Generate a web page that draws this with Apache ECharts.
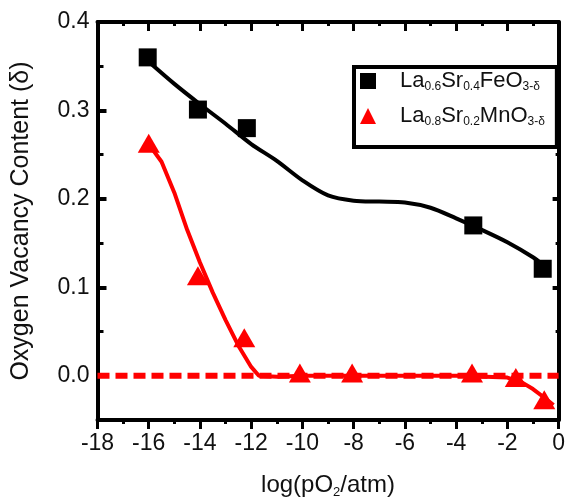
<!DOCTYPE html>
<html>
<head>
<meta charset="utf-8">
<script src="https://cdn.jsdelivr.net/npm/echarts@6/dist/echarts.min.js"></script>
<style>
html,body{margin:0;padding:0;background:#fff;}
#c{width:568px;height:504px;}
</style>
</head>
<body>
<div id="c"></div>
<script>
// ---- data ----
const lsfX = [-16.04, -14.08, -12.17, -3.33, -0.62];
const lsfY = [0.360, 0.301, 0.280, 0.170, 0.121];
const lsmX = [-16.0, -14.08, -12.27, -10.1, -8.06, -3.38, -1.67, -0.56];
const lsmY = [0.263, 0.113, 0.043, 0.003, 0.003, 0.003, -0.002, -0.027];
const lsfFitX = [-16, -15, -14, -13, -12, -11, -10, -9, -8, -7, -6, -5, -4, -3, -2, -1, -0.6];
const lsfFitY = [0.355, 0.330, 0.307, 0.285, 0.262, 0.243, 0.221, 0.204, 0.198, 0.197, 0.196, 0.190, 0.178, 0.165, 0.151, 0.134, 0.125];
const lsmFitX = [-16, -15.5, -15, -14.5, -14, -13.5, -13, -12.5, -12, -11.7, -11, -10, -8, -6, -4, -2, -1.4, -1, -0.5, -0.2];
const lsmFitY = [0.262, 0.242, 0.207, 0.165, 0.128, 0.094, 0.063, 0.034, 0.010, 0.0, -0.001, 0.0, 0.0, 0.0, 0.0, -0.002, -0.008, -0.015, -0.026, -0.033];
const zeroX = [-18, 0];
const zeroY = [0, 0];
const yMajorTicks = [0, 0.1, 0.2, 0.3, 0.4];
const yMinorTicks = [0.05, 0.15, 0.25, 0.35];
const seriesNames = ['LSF', 'LSM'];
const legendLabels = ['La{s|0.6}Sr{s|0.4}FeO{s|3-δ}', 'La{s|0.8}Sr{s|0.2}MnO{s|3-δ}'];

const zip = (xs, ys) => xs.map((x, i) => [x, ys[i]]);
const FF = 'Liberation Sans, Arial, sans-serif';
const AX = {onZero: false, lineStyle: {color: '#000', width: 4}};
const NOAX = {show: false, onZero: false};

const chart = echarts.init(document.getElementById('c'), null, {renderer: 'canvas'});
const yBase = {type: 'value', min: -0.05, max: 0.4, splitLine: {show: false}};
chart.setOption({
  animation: false,
  backgroundColor: '#fff',
  grid: {left: 97.5, right: 3, top: 22, bottom: 81},
  legend: {
    orient: 'vertical', left: 354, top: 67,
    padding: [3, 12, 19, 6], itemGap: 12,
    itemWidth: 16, itemHeight: 16,
    borderColor: '#000', borderWidth: 4, backgroundColor: '#fff',
    data: [{name: seriesNames[0], icon: 'rect'}, {name: seriesNames[1], icon: 'triangle'}],
    formatter: n => legendLabels[seriesNames.indexOf(n)],
    textStyle: {
      fontFamily: FF, fontSize: 22, color: '#111', padding: [0, 0, 0, 19],
      rich: {s: {fontFamily: FF, fontSize: 12, color: '#111', padding: [12, 0, 0, 0]}}
    }
  },
  xAxis: [
    {
      type: 'value', min: -18, max: 0, interval: 2, position: 'bottom',
      axisLine: AX,
      axisTick: {inside: false, length: 9, lineStyle: {color: '#000', width: 3}},
      minorTick: {show: true, splitNumber: 2, length: 4, lineStyle: {color: '#000', width: 3}},
      axisLabel: {fontFamily: FF, fontSize: 23, color: '#111', margin: 12},
      splitLine: {show: false},
      name: 'log(pO{s|2}/atm)', nameLocation: 'middle', nameGap: 51,
      nameTextStyle: {fontFamily: FF, fontSize: 24, color: '#111',
        rich: {s: {fontFamily: FF, fontSize: 13, color: '#111', padding: [15, 0, 0, 0]}}}
    },
    {
      type: 'value', min: -18, max: 0, interval: 2, position: 'top',
      axisLine: AX,
      axisTick: {inside: true, length: 9, lineStyle: {color: '#000', width: 3}},
      minorTick: {show: true, splitNumber: 2, length: 4, lineStyle: {color: '#000', width: 3}},
      axisLabel: {show: false}, splitLine: {show: false}
    }
  ],
  yAxis: [
    Object.assign({}, yBase, {
      position: 'left', axisLine: AX,
      axisTick: {inside: true, length: 9, customValues: yMajorTicks, lineStyle: {color: '#000', width: 4}},
      axisLabel: {customValues: yMajorTicks, formatter: v => v.toFixed(1), fontFamily: FF, fontSize: 23, color: '#111', margin: 8},
      name: 'Oxygen Vacancy Content (δ)', nameLocation: 'middle', nameGap: 64,
      nameTextStyle: {fontFamily: FF, fontSize: 25, color: '#111'}
    }),
    Object.assign({}, yBase, {
      position: 'right', axisLine: AX,
      axisTick: {inside: true, length: 6, customValues: yMajorTicks, lineStyle: {color: '#000', width: 4}},
      axisLabel: {show: false}
    }),
    Object.assign({}, yBase, {
      position: 'left', axisLine: NOAX,
      axisTick: {inside: true, length: 6, customValues: yMinorTicks, lineStyle: {color: '#000', width: 3}},
      axisLabel: {show: false}
    }),
    Object.assign({}, yBase, {
      position: 'right', axisLine: NOAX,
      axisTick: {inside: true, length: 3, customValues: yMinorTicks, lineStyle: {color: '#000', width: 3}},
      axisLabel: {show: false}
    })
  ],
  series: [
    {type: 'line', data: zip(zeroX, zeroY), symbol: 'none', silent: true, z: 1,
     lineStyle: {color: '#ff0000', width: 6, type: [12, 6]}},
    {type: 'line', data: zip(lsmFitX, lsmFitY), symbol: 'none', silent: true, z: 2,
     lineStyle: {color: '#ff0000', width: 4}},
    {type: 'line', data: zip(lsfFitX, lsfFitY), symbol: 'none', smooth: 0.3, silent: true, z: 2,
     lineStyle: {color: '#000', width: 4}},
    {name: seriesNames[0], type: 'scatter', data: zip(lsfX, lsfY), symbol: 'rect', symbolSize: 18, z: 3,
     itemStyle: {color: '#000', opacity: 1}},
    {name: seriesNames[1], type: 'scatter', data: zip(lsmX, lsmY), symbol: 'triangle', symbolSize: [22, 19], z: 3,
     itemStyle: {color: '#ff0000', opacity: 1}}
  ]
});
</script>
</body>
</html>
